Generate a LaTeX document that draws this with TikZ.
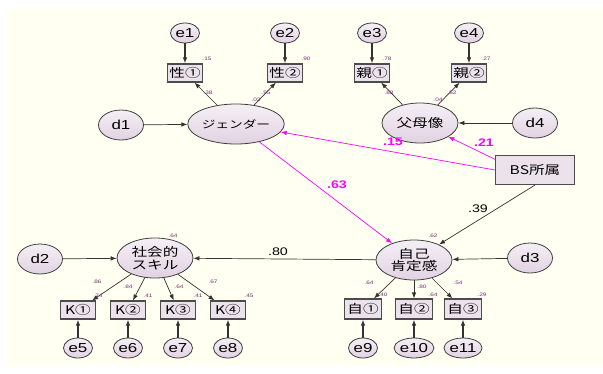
\documentclass[tikz,border=0pt]{standalone}
\usepackage{fontspec}
\setsansfont[FakeStretch=1.3]{Liberation Sans}
\newfontfamily\jp[FakeStretch=1.3]{Noto Sans CJK JP}
\usetikzlibrary{shapes.geometric,arrows.meta}
\definecolor{cream}{HTML}{FFFFF2}
\definecolor{lav}{HTML}{E2D2E2}
\definecolor{coef}{HTML}{7A2E7A}
\definecolor{pink}{HTML}{FF00FF}
\tikzset{
	lat/.style={ellipse, draw=black!75, line width=.8pt, top color=lav!35, bottom color=lav,
		minimum width=76pt, minimum height=40pt, inner sep=0pt, align=center,
		font=\jp\fontsize{12}{12.5}\selectfont},
	dis/.style={ellipse, draw=black!75, line width=.8pt, top color=lav!35, bottom color=lav,
		minimum width=45pt, minimum height=30pt, inner sep=0pt,
		font=\sffamily\fontsize{13}{13}\selectfont},
	err/.style={dis, minimum width=29pt, minimum height=20pt},
	obs/.style={rectangle, draw=black!70, line width=1.1pt, fill=lav!65,
		minimum width=35pt, minimum height=18pt, inner sep=0pt,
		font=\jp\fontsize{12}{12}\selectfont},
	arr/.style={-{Latex[length=6pt,width=4.5pt]}, black!80, line width=.7pt},
	earr/.style={arr, line width=1.2pt},
	mag/.style={arr, pink},
	sm/.style={text=coef, inner sep=0pt, font=\sffamily\fontsize{5}{5}\selectfont},
	big/.style={inner sep=0pt, font=\sffamily\fontsize{11}{11}\selectfont},
	bigm/.style={big, text=pink, font=\sffamily\bfseries\fontsize{11}{11}\selectfont}
}
\begin{document}
\begin{tikzpicture}[x=1pt, y=-1pt, font=\sffamily]
	\useasboundingbox (0,0) rectangle (603,373);
	\fill[cream] (7,8) rectangle (603,366);
	%latent
	\node[lat, font=\jp\fontsize{10.5}{10}\selectfont] (gen) at (236,124) {ジェンダー};
	\node[lat] (par) at (420,123) {父母像};
	\node[lat] (soc) at (155,258) {社会的\\スキル};
	\node[lat] (self) at (414,260) {自己\\肯定感};
	%observed
	\node[obs] (s1) at (185,73) {性①};
	\node[obs] (s2) at (285,73) {性②};
	\node[obs] (p1) at (372,73) {親①};
	\node[obs] (p2) at (469,73) {親②};
	\node[obs, minimum width=79pt, minimum height=29pt] (bs) at (535,170) {BS所属};
	\foreach \n/\x/\t in {k1/78/K①, k2/128/K②, k3/178/K③, k4/228/K④}
	\node[obs] (\n) at (\x,310) {\t};
	\foreach \n/\x/\t in {j1/363/自①, j2/414/自②, j3/463/自③}
	\node[obs, minimum width=37pt, minimum height=20pt] (\n) at (\x,309) {\t};
	%disturbances
	\node[dis] (d1) at (121,125) {d1};
	\node[dis] (d2) at (40,259) {d2};
	\node[dis] (d3) at (530,258) {d3};
	\node[dis] (d4) at (535,123) {d4};
	%errors
	\foreach \n/\x in {e1/185, e2/285, e3/372, e4/469}
	\node[err] (\n) at (\x,33) {\n};
	\foreach \n/\x in {e5/78, e6/128, e7/178, e8/228, e9/363, e10/414, e11/463}
	\node[err] (\n) at (\x,348) {\n};
	%paths
	\foreach \a/\b in {e1/s1, e2/s2, e3/p1, e4/p2, e5/k1, e6/k2, e7/k3, e8/k4,
		e9/j1, e10/j2, e11/j3}
	\draw[earr] (\a) -- (\b);
	\foreach \a/\b in {gen/s1, gen/s2, par/p1, par/p2, soc/k1, soc/k2, soc/k3, soc/k4,
		self/j1, self/j2, self/j3, d1/gen, d2/soc, d3/self, d4/par, self/soc}
	\draw[arr] (\a) -- (\b);
	\draw[arr] (bs.south) -- (self);
	\draw[mag] (bs.west) -- (gen);
	\draw[mag] (bs.165) -- (par);
	\draw[mag] (gen) -- (self);
	%estimates
	\foreach \x/\y/\t [count=\i] in {
		207/59/.15, 208/93/.38, 256/100/.02, 266/93/.95, 306/59/.90,
		387/59/.78, 389/93/.88, 438/100/.04, 452/93/.52, 486/59/.27,
		173/236/.64, 433/236/.62,
		97/282/.86, 98/296/.74, 128/287/.84, 148/296/.41,
		179/287/.64, 198/296/.41, 213/282/.67, 249/296/.45,
		369/283/.64, 383/295/.40, 422/287/.80, 433/295/.64,
		458/283/.54, 482/295/.29}
	\node[sm] (r\i) at (\x,\y) {\t};
	\node[big] (b80) at (278,252) {.80};
	\node[big] (b39) at (478,209) {.39};
	\node[bigm] (b63) at (337,185) {.63};
	\node[bigm] (b15) at (393,142) {.15};
	\node[bigm] (b21) at (484,143) {.21};
\end{tikzpicture}
\end{document}
